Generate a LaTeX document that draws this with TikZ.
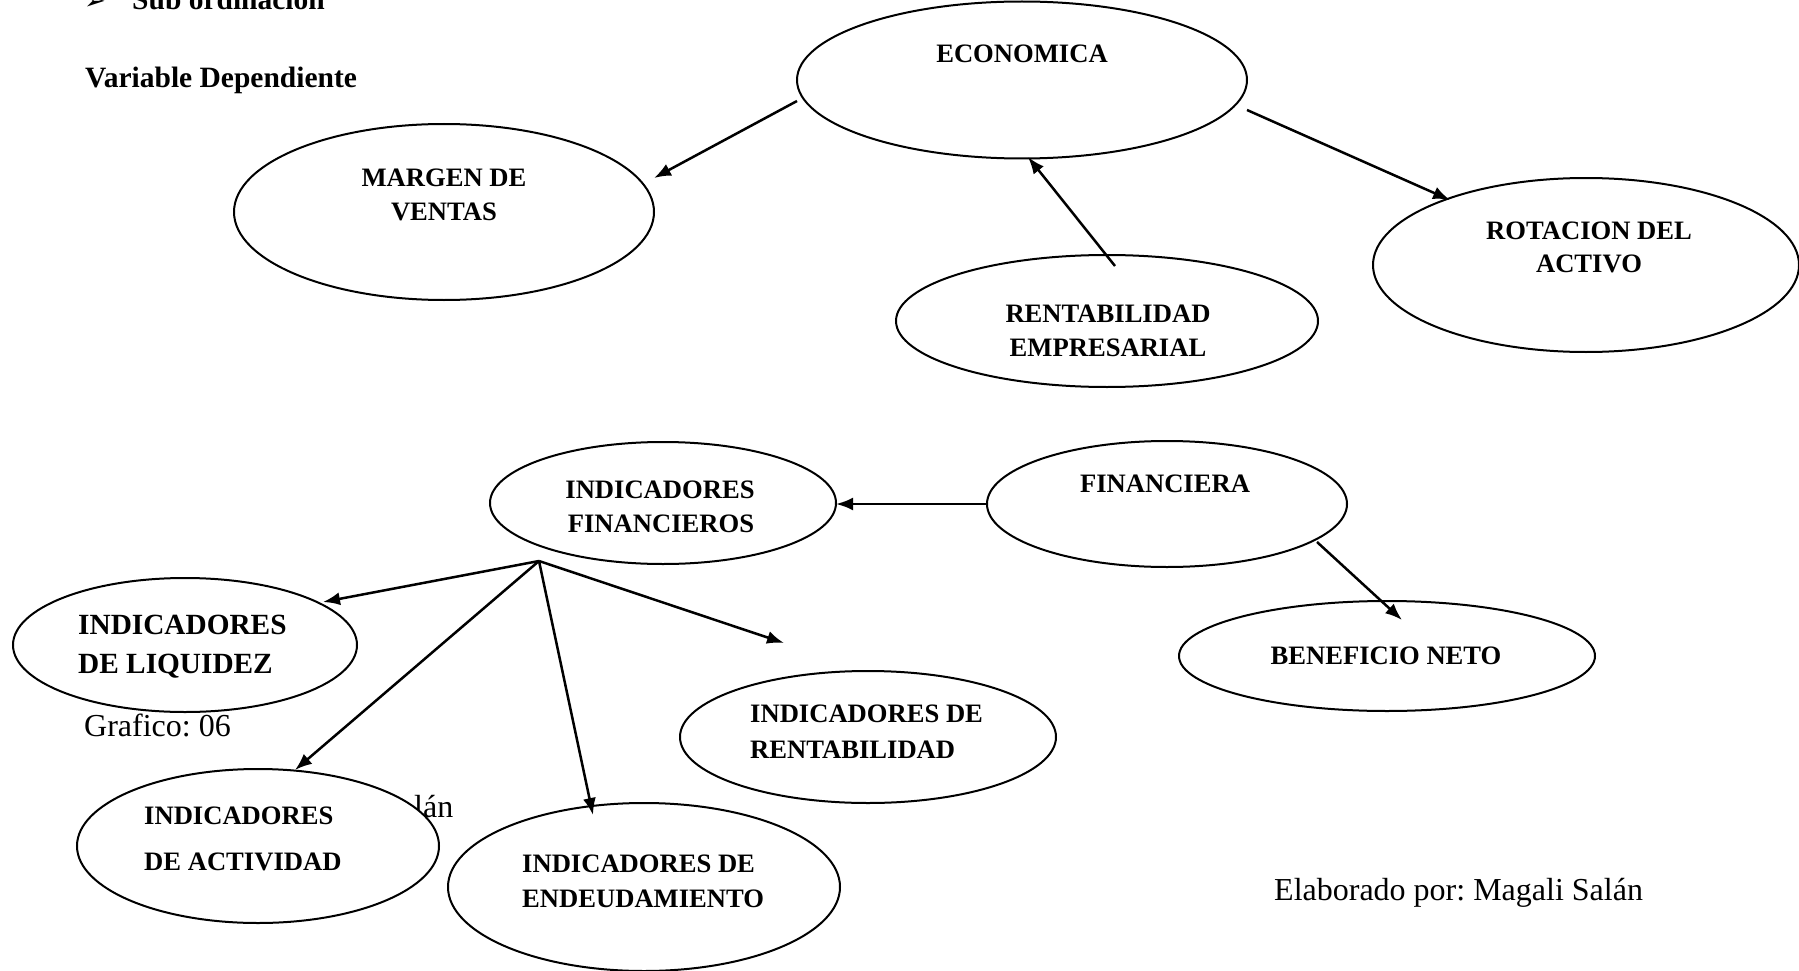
\documentclass[tikz,border=0pt]{standalone}
\usepackage{fontspec}
\setmainfont{Liberation Serif}
\newfontfamily\symfont{DejaVu Sans}
\usetikzlibrary{shapes.geometric,arrows.meta,calc}
\frenchspacing

\tikzset{
  oval/.style={draw, ellipse, line width=2pt, fill=white, inner sep=0pt},
  lbl/.style={font=\bfseries\fontsize{26.6}{30}\selectfont, inner sep=0pt, anchor=base},
  lbll/.style={lbl, anchor=base west},
  plain/.style={font=\fontsize{32}{36}\selectfont, inner sep=0pt, anchor=base west},
  head/.style={font=\bfseries\fontsize{29.5}{34}\selectfont, inner sep=0pt, anchor=base west},
  arr/.style={line width=2.5pt, -{Latex[length=17pt,width=13pt]}}
}

\begin{document}
\begin{tikzpicture}[x=1pt, y=-1pt]
\useasboundingbox (0,0) rectangle (1799,971);
\clip (0,0) rectangle (1799,971);

% headings
\node[font=\symfont\fontsize{26}{30}\selectfont, inner sep=0pt, anchor=base west] (bullet) at (84,10) {➢};
\node[head] (sub) at (132,10) {Sub ordinación};
\node[head] (var) at (85,88) {Variable Dependiente};

% footnotes
\node[plain] (graf) at (84,736) {Grafico: 06};
\node[plain] (frag) at (414,817) {lán};
\node[plain] (elab) at (1274,900) {Elaborado por: Magali Salán};

% economic branch
\node[oval, minimum width=450pt, minimum height=157pt] (eco) at (1022,80) {};
\node[oval, minimum width=420pt, minimum height=176pt] (margen) at (444,212) {};
\node[oval, minimum width=422pt, minimum height=132pt] (rent) at (1107,321) {};
\node[oval, minimum width=426pt, minimum height=174pt] (rot) at (1586,265) {};

\node[lbl] (eco-t) at (1022,63) {ECONOMICA};
\node[lbl] (margen-t1) at (444,186) {MARGEN DE};
\node[lbl] (margen-t2) at (444,220) {VENTAS};
\node[lbl] (rent-t1) at (1108,322) {RENTABILIDAD};
\node[lbl] (rent-t2) at (1108,356) {EMPRESARIAL};
\node[lbl] (rot-t1) at (1589,239) {ROTACION DEL};
\node[lbl] (rot-t2) at (1589,272) {ACTIVO};

% financial branch
\node[oval, minimum width=360pt, minimum height=126pt] (fin) at (1167,504) {};
\node[oval, minimum width=346pt, minimum height=122pt] (indfin) at (663,503) {};
\node[oval, minimum width=416pt, minimum height=110pt] (benef) at (1387,656) {};
\node[oval, minimum width=344pt, minimum height=134pt] (liq) at (185,645) {};
\node[oval, minimum width=362pt, minimum height=154pt] (act) at (258,846) {};
\node[oval, minimum width=392pt, minimum height=168pt] (endeu) at (644,887) {};
\node[oval, minimum width=376pt, minimum height=132pt] (rentab) at (868,737) {};

\node[lbl] (fin-t) at (1165,492) {FINANCIERA};
\node[lbl] (indfin-t1) at (660,498) {INDICADORES};
\node[lbl] (indfin-t2) at (661,532) {FINANCIEROS};
\node[lbl] (benef-t) at (1386,664) {BENEFICIO NETO};
\node[lbll, font=\bfseries\fontsize{29.3}{32}\selectfont] (liq-t1) at (78,634) {INDICADORES};
\node[lbll, font=\bfseries\fontsize{29.3}{32}\selectfont] (liq-t2) at (78,673) {DE LIQUIDEZ};
\node[lbll] (act-t1) at (144,824) {INDICADORES};
\node[lbll] (act-t2) at (144,870) {DE ACTIVIDAD};
\node[lbll] (endeu-t1) at (522,872) {INDICADORES DE};
\node[lbll] (endeu-t2) at (522,907) {ENDEUDAMIENTO};
\node[lbll] (rentab-t1) at (750,722) {INDICADORES DE};
\node[lbll] (rentab-t2) at (750,758) {RENTABILIDAD};

% connectors
\draw[arr] ($(eco)+(-225,21)$) -- ($(margen)+(210,-34)$);
\draw[arr] ($(rent)+(8,-55)$) -- ($(eco)+(6,77)$);
\draw[arr] ($(eco)+(225,30)$) -- ($(rot)+(-136,-65)$);
\draw[arr] ($(fin)+(-180,0)$) -- ($(indfin)+(173,1)$);
\draw[arr] ($(fin)+(150,38)$) -- ($(benef)+(15,-36)$);

\coordinate (hub) at ($(indfin)+(-124,58)$);
\coordinate (rentab-in) at ($(rentab)+(-84,-94)$);
\draw[arr] (hub) -- ($(liq)+(138,-43)$);
\draw[arr] (hub) -- ($(act)+(37,-76)$);
\draw[arr] (hub) -- ($(endeu)+(-51,-72)$);
\draw[arr] (hub) -- (rentab-in);
\end{tikzpicture}
\end{document}
